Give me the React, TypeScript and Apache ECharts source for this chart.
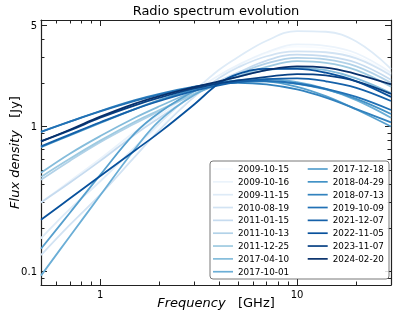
import React, { useEffect, useRef } from 'react';
import * as echarts from 'echarts';

// ---- data ----
const freqsGHz = [0.5, 0.7, 1, 1.5, 2, 3, 4, 5, 7, 10, 14, 20, 30];

const epochs = [
  '2009-10-15', '2009-10-16', '2009-11-15', '2010-08-19', '2011-01-15',
  '2011-10-13', '2011-12-25', '2017-04-10', '2017-10-01', '2017-12-18',
  '2018-04-29', '2018-07-13', '2019-10-09', '2021-12-07', '2022-11-05',
  '2023-11-07', '2024-02-20',
];

const flux_2009_10_15 = [0.17, 0.27, 0.42, 0.70, 1.0, 1.6, 2.15, 2.6, 3.2, 3.55, 3.45, 3.05, 2.3];
const flux_2009_10_16 = [0.30, 0.42, 0.60, 0.92, 1.20, 1.75, 2.25, 2.65, 3.25, 3.68, 3.6, 3.2, 2.35];
const flux_2009_11_15 = [0.17, 0.27, 0.42, 0.72, 1.05, 1.75, 2.45, 3.0, 3.9, 4.55, 4.5, 3.85, 2.5];
const flux_2010_08_19 = [0.13, 0.21, 0.34, 0.62, 0.95, 1.6, 2.15, 2.55, 3.05, 3.3, 3.25, 2.95, 2.25];
const flux_2011_01_15 = [0.30, 0.41, 0.58, 0.88, 1.15, 1.65, 2.05, 2.35, 2.85, 3.13, 3.05, 2.75, 2.1];
const flux_2011_10_13 = [0.43, 0.58, 0.78, 1.05, 1.28, 1.68, 2.0, 2.3, 2.72, 2.97, 2.9, 2.6, 2.0];
const flux_2011_12_25 = [0.45, 0.60, 0.80, 1.08, 1.30, 1.68, 1.98, 2.22, 2.58, 2.82, 2.75, 2.45, 1.88];
const flux_2017_04_10 = [0.48, 0.65, 0.86, 1.15, 1.38, 1.75, 2.02, 2.2, 2.45, 2.55, 2.45, 2.15, 1.7];
const flux_2017_10_01 = [0.094, 0.175, 0.336, 0.70, 1.1, 1.65, 1.95, 2.08, 2.12, 2.02, 1.82, 1.52, 1.15];
const flux_2017_12_18 = [0.144, 0.254, 0.465, 0.90, 1.25, 1.75, 2.0, 2.08, 2.05, 1.88, 1.62, 1.31, 1.0];
const flux_2018_04_29 = [0.72, 0.87, 1.06, 1.32, 1.52, 1.80, 1.95, 2.02, 2.05, 1.97, 1.80, 1.55, 1.22];
const flux_2018_07_13 = [0.92, 1.08, 1.28, 1.52, 1.68, 1.88, 1.98, 2.0, 1.95, 1.80, 1.58, 1.32, 1.07];
const flux_2019_10_09 = [0.92, 1.08, 1.27, 1.50, 1.66, 1.87, 2.0, 2.05, 2.06, 1.98, 1.82, 1.60, 1.30];
const flux_2021_12_07 = [0.73, 0.88, 1.07, 1.32, 1.50, 1.76, 1.92, 2.02, 2.12, 2.15, 2.05, 1.85, 1.50];
const flux_2022_11_05 = [0.228, 0.319, 0.456, 0.684, 0.912, 1.42, 1.98, 2.3, 2.5, 2.5, 2.35, 2.05, 1.6];
const flux_2023_11_07 = [0.79, 0.94, 1.15, 1.40, 1.58, 1.83, 1.98, 2.08, 2.2, 2.3, 2.25, 2.05, 1.68];
const flux_2024_02_20 = [0.79, 0.95, 1.17, 1.44, 1.62, 1.87, 2.05, 2.2, 2.45, 2.6, 2.55, 2.3, 1.95];

const fluxByEpoch = [
  flux_2009_10_15, flux_2009_10_16, flux_2009_11_15, flux_2010_08_19, flux_2011_01_15,
  flux_2011_10_13, flux_2011_12_25, flux_2017_04_10, flux_2017_10_01, flux_2017_12_18,
  flux_2018_04_29, flux_2018_07_13, flux_2019_10_09, flux_2021_12_07, flux_2022_11_05,
  flux_2023_11_07, flux_2024_02_20,
];

const xMajorTicks = [1, 10];
const xMinorTicks = [0.6, 0.7, 0.8, 0.9, 2, 3, 4, 5, 6, 7, 8, 9, 20];
const yMajorTicks = [0.1, 1, 5];
const yMinorTicks = [0.09, 0.2, 0.3, 0.4, 0.5, 0.6, 0.7, 0.8, 0.9, 2, 3, 4];

// ---- style ----
const blues = [
  '#f7fbff', '#ebf3fb', '#deebf7', '#d2e3f3', '#c6dbef', '#b2d2e8', '#9ecae1', '#84bcdb',
  '#6baed6', '#57a0ce', '#4292c6', '#3282be', '#2171b5', '#1561a9', '#08519c', '#084184', '#08306b',
];
const FONT = 'DejaVu Sans';
const FRAME = '#222222';

function xAxisDef(position: string, ticks: number[], len: number, withLabels: boolean, withLine: boolean, extra: any = {}) {
  return {
    type: 'log', logBase: 10, min: 0.5, max: 30, position, gridIndex: 0,
    axisLine: { show: withLine, lineStyle: { color: FRAME, width: 1.2 } },
    axisTick: { show: true, inside: true, length: len, customValues: ticks, lineStyle: { color: FRAME, width: 1 } },
    axisLabel: withLabels
      ? { show: true, customValues: ticks, margin: 4, fontFamily: FONT, fontSize: 10, color: '#000', formatter: (v: number) => String(v) }
      : { show: false },
    splitLine: { show: false },
    ...extra,
  };
}
function yAxisDef(position: string, ticks: number[], len: number, withLabels: boolean, withLine: boolean, extra: any = {}) {
  return {
    type: 'log', logBase: 10, min: 0.081, max: 5.42, position, gridIndex: 0,
    axisLine: { show: withLine, lineStyle: { color: FRAME, width: 1.2 } },
    axisTick: { show: true, inside: true, length: len, customValues: ticks, lineStyle: { color: FRAME, width: 1 } },
    axisLabel: withLabels
      ? { show: true, customValues: ticks, margin: 4, fontFamily: FONT, fontSize: 10, color: '#000', formatter: (v: number) => String(v) }
      : { show: false },
    splitLine: { show: false },
    ...extra,
  };
}

export default function App() {
  const ref = useRef<HTMLDivElement>(null);
  useEffect(() => {
    if (!ref.current) return;
    const chart = echarts.init(ref.current, undefined, { renderer: 'svg' });
    const nameStyle = {
      fontFamily: FONT, fontSize: 13, color: '#000',
      rich: { i: { fontFamily: FONT, fontSize: 13, fontStyle: 'italic', color: '#000' } },
    };
    const series = epochs.map((d, i) => ({
      type: 'line', name: d, xAxisIndex: 0, yAxisIndex: 0,
      data: freqsGHz.map((f, k) => [f, fluxByEpoch[i][k]]),
      smooth: 0.4, symbol: 'none', showSymbol: false,
      lineStyle: { color: blues[i], width: 1.8 }, itemStyle: { color: blues[i] },
      emphasis: { disabled: true }, z: 2,
    }));
    const legendCommon = {
      orient: 'vertical', padding: 0, icon: 'rect', itemWidth: 20, itemHeight: 1.7,
      itemGap: 2.84, itemTextGap: 6, selectedMode: false, z: 5,
      textStyle: { fontFamily: FONT, fontSize: 8.8, color: '#000', lineHeight: 10 },
    };
    chart.setOption({
      animation: false,
      title: {
        text: 'Radio spectrum evolution', left: 216, textAlign: 'center', top: 3.5, padding: 0,
        textStyle: { fontFamily: FONT, fontSize: 13, fontWeight: 'normal', color: '#000' },
      },
      grid: { left: 41, right: 8, top: 20, bottom: 34, containLabel: false, outerBoundsMode: 'none' },
      xAxis: [
        xAxisDef('bottom', xMajorTicks, 6, true, true, {
          name: '{i|Frequency}   [GHz]', nameLocation: 'middle', nameGap: 11, nameMoveOverlap: false,
          nameTextStyle: nameStyle,
        }),
        xAxisDef('bottom', xMinorTicks, 3.5, false, false),
        xAxisDef('top', xMajorTicks, 6, false, true),
        xAxisDef('top', xMinorTicks, 3.5, false, false),
      ],
      yAxis: [
        yAxisDef('left', yMajorTicks, 6, true, true, {
          name: '{i|Flux density}   [Jy]', nameLocation: 'middle', nameGap: 20, nameMoveOverlap: false,
          nameTextStyle: nameStyle,
        }),
        yAxisDef('left', yMinorTicks, 3.5, false, false),
        yAxisDef('right', yMajorTicks, 6, false, true),
        yAxisDef('right', yMinorTicks, 3.5, false, false),
      ],
      legend: [
        { ...legendCommon, data: epochs.slice(0, 9), left: 213, top: 164 },
        { ...legendCommon, data: epochs.slice(9), left: 307.7, top: 164 },
      ],
      graphic: [
        {
          type: 'rect', z: 3,
          shape: { x: 210, y: 161, width: 179, height: 118, r: 3 },
          style: { fill: 'rgba(255,255,255,0.85)', stroke: '#555', lineWidth: 0.8 },
        },
      ],
      series,
    });
    return () => chart.dispose();
  }, []);
  return <div ref={ref} style={{ position: 'fixed', left: 0, top: 0, width: 399, height: 319 }} />;
}
